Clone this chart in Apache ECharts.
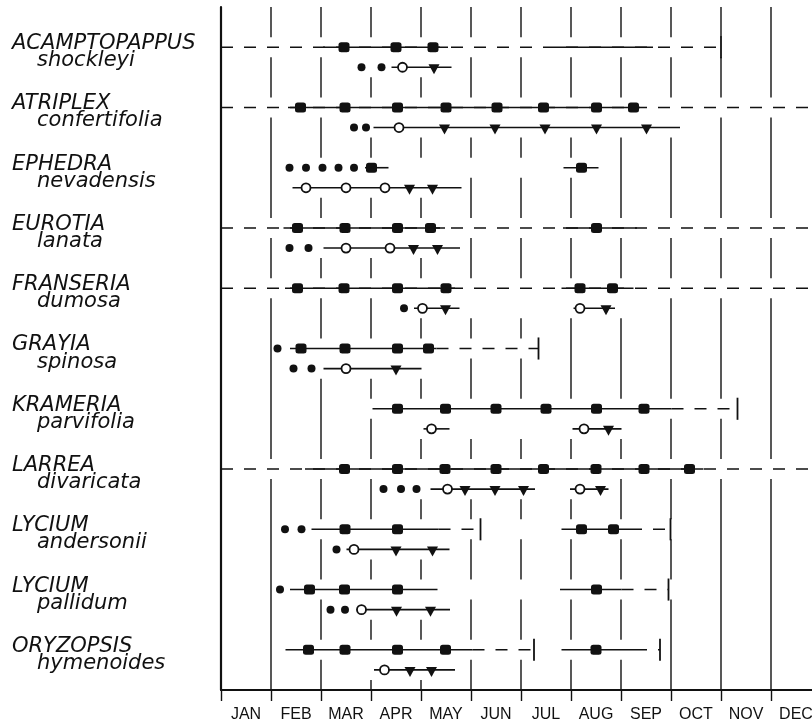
<!DOCTYPE html>
<html>
<head>
<meta charset="utf-8">
<script src="https://cdn.jsdelivr.net/npm/echarts/dist/echarts.min.js"></script>
<style>
  html, body { margin: 0; padding: 0; background: #fff; }
  #chart { width: 812px; height: 724px; }
</style>
</head>
<body>
<div id="chart"></div>
<script>
// Months along the bottom (each occupies one band of the time axis)
const months = ['JAN', 'FEB', 'MAR', 'APR', 'MAY', 'JUN', 'JUL', 'AUG', 'SEP', 'OCT', 'NOV', 'DEC'];

// Species, top to bottom
const genera = ['ACAMPTOPAPPUS', 'ATRIPLEX', 'EPHEDRA', 'EUROTIA', 'FRANSERIA', 'GRAYIA',
                'KRAMERIA', 'LARREA', 'LYCIUM', 'LYCIUM', 'ORYZOPSIS'];
const epithets = ['shockleyi', 'confertifolia', 'nevadensis', 'lanata', 'dumosa', 'spinosa',
                  'parvifolia', 'divaricata', 'andersonii', 'pallidum', 'hymenoides'];

// Time is in months from 1 January (0) to 31 December (12).
// Each species has an upper line (0) and a lower line (1).

// [species, line, from, to]
const solidSpans = [
  [0, 0, 2.04, 4.54], [0, 0, 6.68, 8.64], [0, 1, 3.41, 4.61],
  [1, 0, 1.34, 8.38], [1, 1, 3.05, 9.18],
  [2, 0, 2.88, 3.35], [2, 0, 6.85, 7.55], [2, 1, 1.43, 4.81],
  [3, 0, 1.25, 4.48], [3, 0, 6.84, 8.32], [3, 1, 2.05, 4.78],
  [4, 0, 1.28, 4.68], [4, 0, 6.81, 8.25], [4, 1, 3.86, 4.77], [4, 1, 7.05, 7.88],
  [5, 0, 1.38, 4.31], [5, 1, 2.05, 4.01],
  [6, 0, 3.03, 9.01], [6, 1, 4.05, 4.57], [6, 1, 7.03, 8.01],
  [7, 0, 1.68, 9.65], [7, 1, 4.19, 6.28], [7, 1, 6.98, 7.75],
  [8, 0, 1.81, 4.35], [8, 0, 6.81, 8.18], [8, 1, 2.51, 4.57],
  [9, 0, 1.38, 4.33], [9, 0, 6.78, 8.01], [9, 1, 2.71, 4.58],
  [10, 0, 1.29, 5.03], [10, 0, 6.81, 8.28], [10, 1, 3.06, 4.68]
];

// [species, line, from, to]
const dashedSpans = [
  [0, 0, 0, 10.0],
  [1, 0, 0, 12],
  [3, 0, 0, 12],
  [4, 0, 0, 12],
  [5, 0, 4.31, 6.35],
  [6, 0, 9.01, 10.33],
  [7, 0, 0, 12],
  [8, 0, 4.35, 5.19], [8, 0, 8.18, 8.99],
  [9, 0, 8.01, 8.95],
  [10, 0, 5.03, 6.26], [10, 0, 8.28, 8.78]
];

// [species, line, month] : short vertical bar closing a dashed run
const endCaps = [
  [0, 0, 10.0], [5, 0, 6.35], [6, 0, 10.33], [8, 0, 5.19], [8, 0, 8.99],
  [9, 0, 8.95], [10, 0, 6.26], [10, 0, 8.78]
];

// [species, month] : filled squares on the upper line
const squares = [
  [0, 2.46], [0, 3.50], [0, 4.24],
  [1, 1.59], [1, 2.48], [1, 3.53], [1, 4.50], [1, 5.52], [1, 6.45], [1, 7.51], [1, 8.25],
  [2, 3.01], [2, 7.21],
  [3, 1.53], [3, 2.48], [3, 3.53], [3, 4.19], [3, 7.51],
  [4, 1.53], [4, 2.46], [4, 3.53], [4, 4.50], [4, 7.18], [4, 7.83],
  [5, 1.60], [5, 2.48], [5, 3.53], [5, 4.15],
  [6, 3.53], [6, 4.49], [6, 5.50], [6, 6.50], [6, 7.51], [6, 8.46],
  [7, 2.47], [7, 3.53], [7, 4.48], [7, 5.50], [7, 6.45], [7, 7.50], [7, 8.46], [7, 9.37],
  [8, 2.48], [8, 3.53], [8, 7.21], [8, 7.85],
  [9, 1.77], [9, 2.47], [9, 3.53], [9, 7.51],
  [10, 1.75], [10, 2.48], [10, 3.53], [10, 4.49], [10, 7.50]
];

// [species, line, month] : small filled dots
const dots = [
  [0, 1, 2.81], [0, 1, 3.21],
  [1, 1, 2.66], [1, 1, 2.90],
  [2, 0, 1.37], [2, 0, 1.70], [2, 0, 2.03], [2, 0, 2.35], [2, 0, 2.66],
  [3, 1, 1.37], [3, 1, 1.75],
  [4, 1, 3.66],
  [5, 0, 1.13], [5, 1, 1.45], [5, 1, 1.81],
  [7, 1, 3.25], [7, 1, 3.60], [7, 1, 3.91],
  [8, 0, 1.28], [8, 0, 1.61], [8, 1, 2.31],
  [9, 0, 1.18], [9, 1, 2.19], [9, 1, 2.48]
];

// [species, month] : open circles on the lower line
const openCircles = [
  [0, 3.63], [1, 3.56], [2, 1.70], [2, 2.50], [2, 3.28], [3, 2.50], [3, 3.38],
  [4, 4.03], [4, 7.18], [5, 2.50], [6, 4.21], [6, 7.26], [7, 4.53], [7, 7.18],
  [8, 2.66], [9, 2.81], [10, 3.27]
];

// [species, month] : downward triangles on the lower line
const triangles = [
  [0, 4.26],
  [1, 4.47], [1, 5.48], [1, 6.48], [1, 7.51], [1, 8.51],
  [2, 3.77], [2, 4.23],
  [3, 3.85], [3, 4.33],
  [4, 4.49], [4, 7.70],
  [5, 3.50],
  [6, 7.75],
  [7, 4.88], [7, 5.48], [7, 6.05], [7, 7.59],
  [8, 3.50], [8, 4.23],
  [9, 3.51], [9, 4.19],
  [10, 3.78], [10, 4.21]
];

const INK = '#111';
const rowOf = (k, line) => 3 * k + line;

// Month boundary lines are broken wherever a species line passes across them
const rowExtent = {};
function extend(row, a, b) {
  const e = rowExtent[row] || (rowExtent[row] = [Infinity, -Infinity]);
  e[0] = Math.min(e[0], a);
  e[1] = Math.max(e[1], b);
}
solidSpans.forEach(s => extend(rowOf(s[0], s[1]), s[2], s[3]));
dashedSpans.forEach(s => extend(rowOf(s[0], s[1]), s[2], s[3]));
endCaps.forEach(c => extend(rowOf(c[0], c[1]), c[2], c[2]));
squares.forEach(p => extend(rowOf(p[0], 0), p[1], p[1]));
dots.forEach(p => extend(rowOf(p[0], p[1]), p[2], p[2]));
openCircles.forEach(p => extend(rowOf(p[0], 1), p[1], p[1]));
triangles.forEach(p => extend(rowOf(p[0], 1), p[1], p[1]));

const Y_TOP = -2, Y_BOTTOM = 32;
const gridPieces = [];
for (let m = 1; m <= 12; m++) {
  const gaps = Object.keys(rowExtent).map(Number)
    .filter(r => m >= rowExtent[r][0] - 0.12 && m <= rowExtent[r][1] + 0.12)
    .sort((a, b) => a - b)
    .map(r => [r - 0.5, r + 0.5]);
  let y = Y_TOP;
  gaps.forEach(g => {
    if (g[0] > y) gridPieces.push([m, y, g[0]]);
    y = Math.max(y, g[1]);
  });
  if (y < Y_BOTTOM) gridPieces.push([m, y, Y_BOTTOM]);
}

function horizontalSeries(spans, dash, z) {
  return {
    type: 'custom', xAxisIndex: 1, z: z, silent: true,
    data: spans.map(s => [s[2], s[3], rowOf(s[0], s[1])]),
    encode: { x: [0, 1], y: 2 },
    renderItem: (params, api) => {
      const a = api.coord([api.value(0), api.value(2)]);
      const b = api.coord([api.value(1), api.value(2)]);
      return {
        type: 'line',
        shape: { x1: a[0], y1: a[1], x2: b[0], y2: b[1] },
        style: { stroke: INK, lineWidth: 1.6, lineDash: dash, fill: null }
      };
    }
  };
}

const chart = echarts.init(document.getElementById('chart'), null, { renderer: 'canvas' });

chart.setOption({
  backgroundColor: '#fff',
  animation: false,
  grid: { left: 221, top: 7, width: 600, height: 683, containLabel: false, outerBoundsMode: 'none' },
  xAxis: [
    {
      type: 'category', data: months, boundaryGap: true, position: 'bottom',
      axisLine: { show: true, onZero: false, lineStyle: { color: INK, width: 2 } },
      axisTick: { show: true, length: 11, lineStyle: { color: INK, width: 1.4 } },
      axisLabel: { color: INK, fontFamily: 'Liberation Sans', fontSize: 16, margin: 17, hideOverlap: false },
      splitLine: { show: false }
    },
    { type: 'value', min: 0, max: 12, show: false }
  ],
  yAxis: {
    type: 'value', min: Y_TOP, max: Y_BOTTOM, inverse: true,
    axisLine: { show: true, onZero: false, lineStyle: { color: INK, width: 2.2 } },
    axisTick: { show: false }, axisLabel: { show: false }, splitLine: { show: false }
  },
  series: [
    // broken month boundary lines
    {
      type: 'custom', xAxisIndex: 1, z: 1, silent: true,
      data: gridPieces,
      encode: { x: 0, y: [1, 2] },
      renderItem: (params, api) => {
        const a = api.coord([api.value(0), api.value(1)]);
        const b = api.coord([api.value(0), api.value(2)]);
        return {
          type: 'line',
          shape: { x1: a[0], y1: a[1], x2: b[0], y2: b[1] },
          style: { stroke: INK, lineWidth: 1.4 }
        };
      }
    },
    horizontalSeries(dashedSpans, [12, 11], 2),
    horizontalSeries(solidSpans, null, 3),
    // end caps
    {
      type: 'custom', xAxisIndex: 1, z: 3, silent: true,
      data: endCaps.map(c => [c[2], rowOf(c[0], c[1])]),
      encode: { x: 0, y: 1 },
      renderItem: (params, api) => {
        const a = api.coord([api.value(0), api.value(1) - 0.55]);
        const b = api.coord([api.value(0), api.value(1) + 0.55]);
        return {
          type: 'line',
          shape: { x1: a[0], y1: a[1], x2: b[0], y2: b[1] },
          style: { stroke: INK, lineWidth: 1.8 }
        };
      }
    },
    {
      type: 'scatter', xAxisIndex: 1, z: 5, silent: true,
      symbol: 'roundRect', symbolSize: [11, 10],
      itemStyle: { color: INK, opacity: 1 },
      data: squares.map(p => [p[1], rowOf(p[0], 0)])
    },
    {
      type: 'scatter', xAxisIndex: 1, z: 5, silent: true,
      symbol: 'circle', symbolSize: 8,
      itemStyle: { color: INK, opacity: 1 },
      data: dots.map(p => [p[2], rowOf(p[0], p[1])])
    },
    {
      type: 'scatter', xAxisIndex: 1, z: 5, silent: true,
      symbol: 'circle', symbolSize: 9,
      itemStyle: { color: '#fff', borderColor: INK, borderWidth: 1.8, opacity: 1 },
      data: openCircles.map(p => [p[1], rowOf(p[0], 1)])
    },
    {
      type: 'scatter', xAxisIndex: 1, z: 5, silent: true,
      symbol: 'triangle', symbolSize: [11, 10], symbolRotate: 180, symbolOffset: [0, 2],
      itemStyle: { color: INK, opacity: 1 },
      data: triangles.map(p => [p[1], rowOf(p[0], 1)])
    },
    // species names at the left of each pair of lines
    {
      type: 'custom', xAxisIndex: 1, z: 5, silent: true, clip: false,
      data: genera.map((g, k) => [0, rowOf(k, 0)]),
      encode: { x: 0, y: 1 },
      renderItem: (params, api) => {
        const k = params.dataIndex;
        const p = api.coord([0, api.value(1)]);
        const q = api.coord([0, api.value(1) + 1]);
        const font = 'italic 21px "DejaVu Sans"';
        return {
          type: 'group',
          children: [
            { type: 'text', x: 12, y: p[1] - 3.5,
              style: { text: genera[k], font: font, fill: INK, align: 'left', verticalAlign: 'middle' } },
            { type: 'text', x: 37, y: q[1] - 6.5,
              style: { text: epithets[k], font: font, fill: INK, align: 'left', verticalAlign: 'middle' } }
          ]
        };
      }
    }
  ]
});
</script>
</body>
</html>
